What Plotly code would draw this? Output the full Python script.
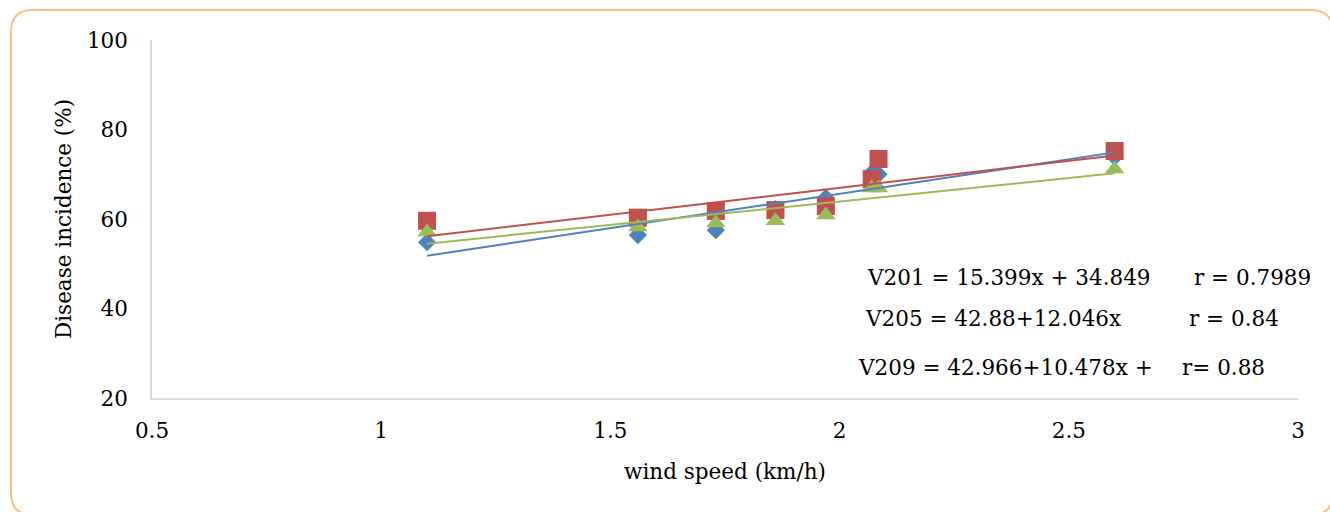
import plotly.graph_objects as go

# Wind speed (km/h) and disease incidence (%) for three varieties
wind_speed = [1.1, 1.56, 1.73, 1.86, 1.97, 2.07, 2.085, 2.6]
v201 = [54.8, 56.4, 57.5, 62.2, 64.7, 70.3, 70.0, 73.9]
v205 = [59.6, 60.3, 61.8, 62.0, 62.9, 68.9, 73.4, 75.2]
v209 = [57.1, 58.2, 59.1, 59.6, 60.9, 66.9, 66.9, 71.2]

# Linear fits: incidence = intercept + slope * wind speed
intercepts = [34.849, 42.88, 42.966]
slopes = [15.399, 12.046, 10.478]
equations = ["V201 = 15.399x + 34.849", "V205 = 42.88+12.046x", "V209 = 42.966+10.478x +"]
r_labels = ["r = 0.7989", "r = 0.84", "r= 0.88"]

x_ticks = [0.5, 1, 1.5, 2, 2.5, 3]
x_tick_text = ["0.5", "1", "1.5", "2", "2.5", "3"]
y_ticks = [20, 40, 60, 80, 100]

colors = ["#4F81BD", "#C0504D", "#9BBB59"]
symbols = ["diamond", "square", "triangle-up"]
sizes = [14, 18, 17]
series = [v201, v205, v209]

W, H = 1330, 512
L, R, T, B = 152, 32, 40, 114
FONT = "DejaVu Serif"
FS = 21.5


def px(x):
    return (x - L) / (W - L - R)


def py(y):
    return (H - B - y) / (H - T - B)


fig = go.Figure()

for vals, c, s, sz in zip(series, colors, symbols, sizes):
    fig.add_trace(go.Scatter(
        x=wind_speed, y=vals, mode="markers",
        marker=dict(symbol=s, size=sz, color=c, line=dict(width=0)),
        showlegend=False,
    ))

x_lo, x_hi = min(wind_speed), max(wind_speed)
for a, b, c in zip(intercepts, slopes, colors):
    fig.add_trace(go.Scatter(
        x=[x_lo, x_hi], y=[a + b * x_lo, a + b * x_hi], mode="lines",
        line=dict(color=c, width=2), showlegend=False,
    ))

# Equation / correlation labels
eq_x = [865, 863, 856]
r_x = [1192, 1187, 1180]
row_y = [277, 318, 367]
for eq, rl, ex, rx, ry in zip(equations, r_labels, eq_x, r_x, row_y):
    fig.add_annotation(text=eq, x=px(ex), y=py(ry), xref="paper", yref="paper",
                       xanchor="left", yanchor="middle", showarrow=False,
                       font=dict(family=FONT, size=FS, color="black"))
    fig.add_annotation(text=rl, x=px(rx), y=py(ry), xref="paper", yref="paper",
                       xanchor="left", yanchor="middle", showarrow=False,
                       font=dict(family=FONT, size=FS, color="black"))

# Rounded chart frame
x0, y0, x1, y1, rad = 11, 10, 1333, 515, 22


def pt(x, y):
    return f"{px(x)},{py(y)}"


frame = (
    f"M {pt(x0 + rad, y0)} L {pt(x1 - rad, y0)} Q {pt(x1, y0)} {pt(x1, y0 + rad)} "
    f"L {pt(x1, y1 - rad)} Q {pt(x1, y1)} {pt(x1 - rad, y1)} "
    f"L {pt(x0 + rad, y1)} Q {pt(x0, y1)} {pt(x0, y1 - rad)} "
    f"L {pt(x0, y0 + rad)} Q {pt(x0, y0)} {pt(x0 + rad, y0)} Z"
)
fig.add_shape(type="path", path=frame, xref="paper", yref="paper",
              line=dict(color="#F9BF8A", width=2), layer="below")

fig.update_layout(
    width=W, height=H,
    margin=dict(l=L, r=R, t=T, b=B),
    paper_bgcolor="white", plot_bgcolor="white",
    font=dict(family=FONT, size=FS, color="black"),
    showlegend=False,
    xaxis=dict(
        range=[0.5, 3], tickvals=x_ticks, ticktext=x_tick_text,
        showgrid=False, zeroline=False, showline=True, linecolor="#D9D9D9", linewidth=1.5,
        ticks="", ticklabelstandoff=12,
        title=dict(text="wind speed (km/h)", standoff=22, font=dict(family=FONT, size=FS)),
        tickfont=dict(family=FONT, size=FS, color="black"),
    ),
    yaxis=dict(
        range=[20, 100], tickvals=y_ticks,
        showgrid=False, zeroline=False, showline=True, linecolor="#D9D9D9", linewidth=1.5,
        ticks="", ticklabelstandoff=18,
        title=dict(text="Disease incidence (%)", standoff=9, font=dict(family=FONT, size=FS)),
        tickfont=dict(family=FONT, size=FS, color="black"),
    ),
)

fig.write_html("out.html")
